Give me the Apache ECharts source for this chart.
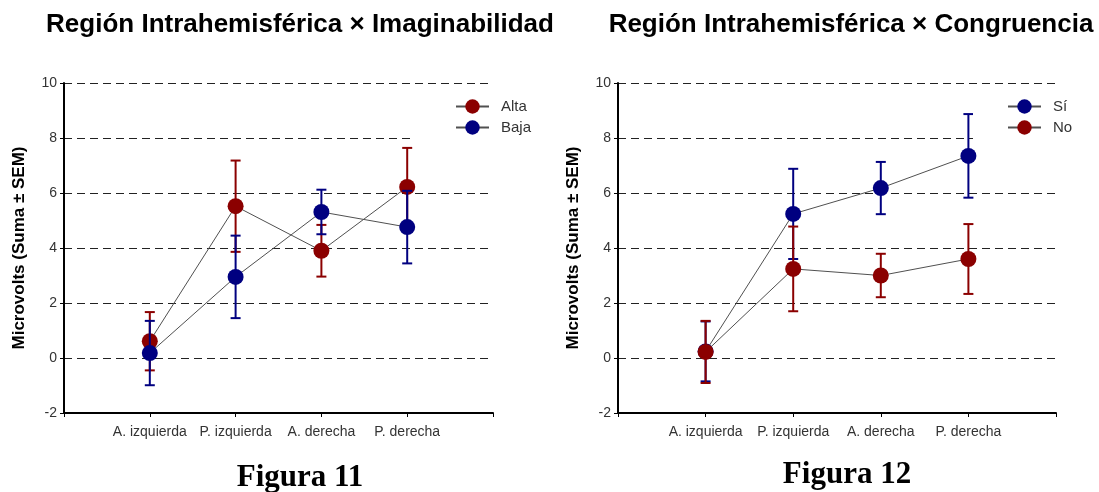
<!DOCTYPE html>
<html>
<head>
<meta charset="utf-8">
<script src="https://cdn.jsdelivr.net/npm/echarts@6/dist/echarts.min.js"></script>
<style>html,body{margin:0;padding:0;background:#fff}#c{width:1099px;height:492px}</style>
</head>
<body>
<div id="c"></div>
<script>
const categories = ['A. izquierda', 'P. izquierda', 'A. derecha', 'P. derecha'];
const yTicks = [-2, 0, 2, 4, 6, 8, 10];

// Figura 11: Región Intrahemisférica × Imaginabilidad
const altaMean = [0.61, 5.52, 3.90, 6.22];
const altaSem  = [1.06, 1.66, 0.94, 1.42];
const bajaMean = [0.18, 2.95, 5.31, 4.76];
const bajaSem  = [1.17, 1.50, 0.81, 1.32];

// Figura 12: Región Intrahemisférica × Congruencia
const siMean = [0.24, 5.24, 6.18, 7.35];
const siSem  = [1.09, 1.64, 0.95, 1.52];
const noMean = [0.22, 3.24, 3.00, 3.60];
const noSem  = [1.13, 1.54, 0.79, 1.27];

const RED = '#8B0000', BLUE = '#000080';
const axisData = [''].concat(categories, ['']);
const FONT = 'Arial, "Liberation Sans", sans-serif';
const SERIF = '"Times New Roman", "Liberation Serif", serif';

function pts(mean) { return mean.map((v, i) => [i + 1, v]); }
function errs(mean, sem) { return mean.map((v, i) => [i + 1, v - sem[i], v + sem[i]]); }

function errSeries(mean, sem, color, idx, z) {
  return {
    type: 'custom', xAxisIndex: idx, yAxisIndex: idx, z: z, silent: true,
    data: errs(mean, sem),
    renderItem: function (params, api) {
      const x = api.value(0);
      const lo = api.coord([x, api.value(1)]);
      const hi = api.coord([x, api.value(2)]);
      const w = 5;
      const st = { stroke: color, lineWidth: 2 };
      return { type: 'group', children: [
        { type: 'line', shape: { x1: lo[0], y1: lo[1], x2: hi[0], y2: hi[1] }, style: st },
        { type: 'line', shape: { x1: lo[0] - w, y1: lo[1], x2: lo[0] + w, y2: lo[1] }, style: st },
        { type: 'line', shape: { x1: hi[0] - w, y1: hi[1], x2: hi[0] + w, y2: hi[1] }, style: st }
      ]};
    }
  };
}
function lineSeries(name, mean, color, idx, z) {
  return {
    type: 'line', name: name, xAxisIndex: idx, yAxisIndex: idx, z: z,
    data: pts(mean), symbol: 'circle', symbolSize: 16,
    itemStyle: { color: color }, lineStyle: { color: '#505050', width: 1 },
    emphasis: { disabled: true }, animation: false
  };
}
function xAxis(idx) {
  return {
    type: 'category', gridIndex: idx, data: axisData, boundaryGap: false,
    axisLine: { onZero: false, lineStyle: { color: '#000', width: 2 } },
    axisTick: { show: true, interval: 0, length: 4, lineStyle: { color: '#000', width: 1 } },
    axisLabel: { interval: 0, color: '#333', fontSize: 14, fontFamily: FONT, margin: 12 },
    splitLine: { show: false }
  };
}
function yAxis(idx) {
  return {
    type: 'value', gridIndex: idx, min: yTicks[0], max: yTicks[yTicks.length - 1], interval: 2,
    name: 'Microvolts (Suma ± SEM)', nameLocation: 'middle', nameGap: 36,
    nameTextStyle: { fontSize: 17, fontFamily: FONT, color: '#000', fontWeight: 'bold' },
    axisLine: { show: true, onZero: false, lineStyle: { color: '#000', width: 2 } },
    axisTick: { show: true, length: 4, lineStyle: { color: '#000' } },
    axisLabel: { color: '#333', fontSize: 14, fontFamily: FONT, margin: 7 },
    splitLine: { show: true, lineStyle: { color: '#222', width: 1, type: [8, 5] } }
  };
}
function legend(names, left, padLeft) {
  return {
    data: names, orient: 'vertical', left: left, top: 95,
    itemWidth: 33, itemHeight: 18, itemGap: 6,
    backgroundColor: '#fff', padding: [4, 12, 4, padLeft],
    textStyle: { fontSize: 15, fontFamily: FONT, color: '#333', padding: [0, 0, 0, 7] },
    selectedMode: false
  };
}

const chart = echarts.init(document.getElementById('c'));
chart.setOption({
  animation: false,
  backgroundColor: '#fff',
  title: [
    { text: 'Región Intrahemisférica × Imaginabilidad', left: 295, top: 7, textAlign: 'center',
      textStyle: { fontSize: 26, fontWeight: 'bold', fontFamily: FONT, color: '#000' } },
    { text: 'Región Intrahemisférica × Congruencia', left: 846, top: 7, textAlign: 'center',
      textStyle: { fontSize: 26, fontWeight: 'bold', fontFamily: FONT, color: '#000' } },
    { text: 'Figura 11', left: 295, top: 457, textAlign: 'center',
      textStyle: { fontSize: 31, fontWeight: 'bold', fontFamily: SERIF, color: '#000' } },
    { text: 'Figura 12', left: 842, top: 454, textAlign: 'center',
      textStyle: { fontSize: 31, fontWeight: 'bold', fontFamily: SERIF, color: '#000' } }
  ],
  grid: [
    { left: 64, right: 606, top: 83, bottom: 79 },
    { left: 618, right: 43, top: 83, bottom: 79 }
  ],
  xAxis: [xAxis(0), xAxis(1)],
  yAxis: [yAxis(0), yAxis(1)],
  legend: [legend(['Alta', 'Baja'], 413, 42), legend(['Sí', 'No'], 973, 34)],
  series: [
    errSeries(altaMean, altaSem, RED, 0, 2),
    lineSeries('Alta', altaMean, RED, 0, 3),
    errSeries(bajaMean, bajaSem, BLUE, 0, 4),
    lineSeries('Baja', bajaMean, BLUE, 0, 5),
    errSeries(siMean, siSem, BLUE, 1, 2),
    lineSeries('Sí', siMean, BLUE, 1, 3),
    errSeries(noMean, noSem, RED, 1, 4),
    lineSeries('No', noMean, RED, 1, 5)
  ]
});
</script>
</body>
</html>
